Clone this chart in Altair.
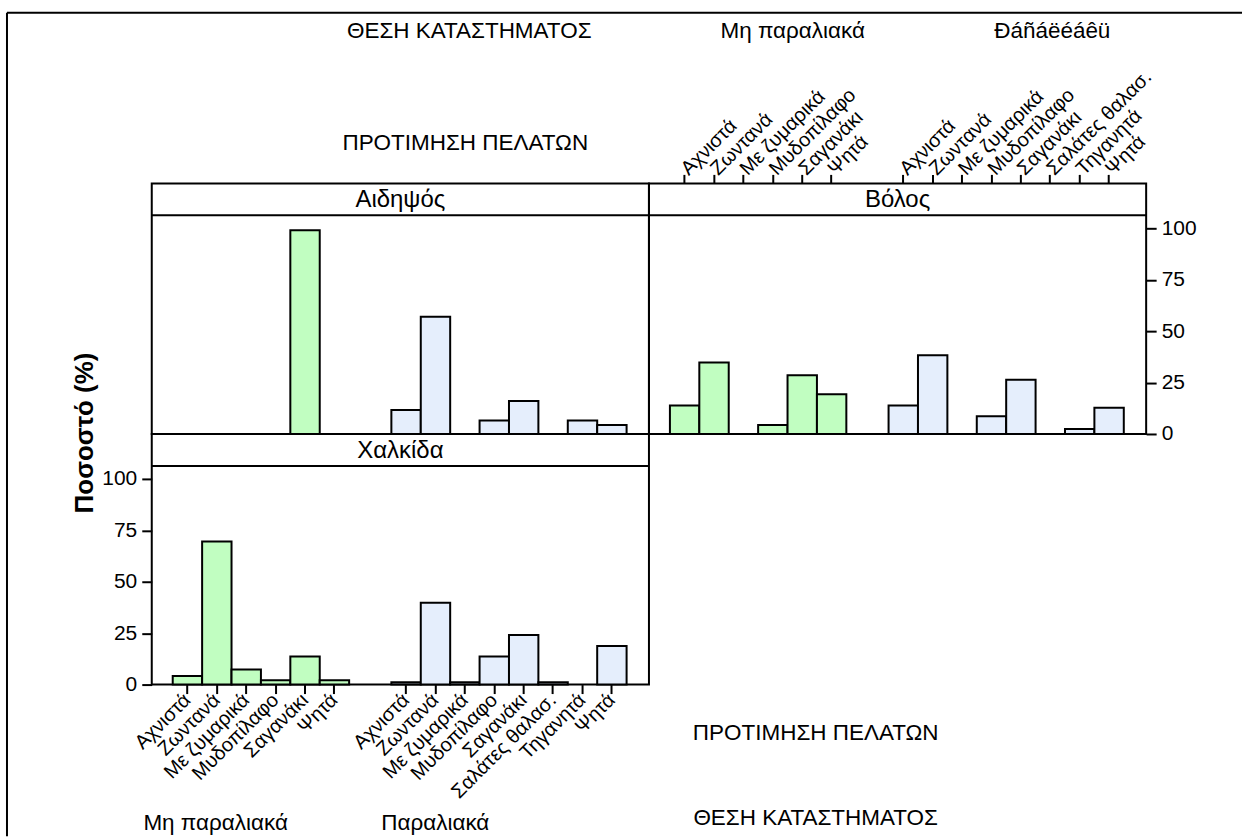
import altair as alt
import pandas as pd

# ---- data -----------------------------------------------------------------
cities = ["Αιδηψός", "Βόλος", "Χαλκίδα"]
locations = ["Μη παραλιακά", "Παραλιακά"]

foods_inland = ["Αχνιστά", "Ζωντανά", "Με ζυμαρικά", "Μυδοπίλαφο", "Σαγανάκι", "Ψητά"]
foods_seaside = ["Αχνιστά", "Ζωντανά", "Με ζυμαρικά", "Μυδοπίλαφο", "Σαγανάκι",
                 "Σαλάτες θαλασ.", "Τηγανητά", "Ψητά"]

# percentage of customers per food, for each city and shop location
aidipsos_inland = [0, 0, 0, 0, 99.0, 0]
aidipsos_seaside = [11.7, 57.0, 0, 6.6, 16.0, 0, 6.6, 4.4]
volos_inland = [13.8, 34.8, 0, 4.4, 28.6, 19.3]
volos_seaside = [13.8, 38.3, 0, 8.6, 26.4, 0, 2.4, 12.8]
chalkida_inland = [4.2, 69.6, 7.3, 2.1, 13.7, 2.1]
chalkida_seaside = [1.1, 39.8, 1.1, 13.6, 24.1, 1.1, 0, 18.8]

y_ticks = [0, 25, 50, 75, 100]

title_location = "ΘΕΣΗ ΚΑΤΑΣΤΗΜΑΤΟΣ"
title_preference = "ΠΡΟΤΙΜΗΣΗ ΠΕΛΑΤΩΝ"
title_y = "Ποσοστό (%)"
top_location_labels = ["Μη παραλιακά", "Ðáñáëéáêü"]

series = {
    (cities[0], locations[0]): aidipsos_inland,
    (cities[0], locations[1]): aidipsos_seaside,
    (cities[1], locations[0]): volos_inland,
    (cities[1], locations[1]): volos_seaside,
    (cities[2], locations[0]): chalkida_inland,
    (cities[2], locations[1]): chalkida_seaside,
}
food_lists = {locations[0]: foods_inland, locations[1]: foods_seaside}

rows = []
for (city, loc), vals in series.items():
    for food, v in zip(food_lists[loc], vals):
        if v > 0:
            rows.append({"city": city, "location": loc, "food": food, "pct": v})
df = pd.DataFrame(rows)

# ---- layout ---------------------------------------------------------------
FONT = "Liberation Sans"
W, H = 498, 251          # one lattice cell, header strip included
HEADER = 32              # height of the city strip
PX_PER_PCT = 2.06
Y_MAX = H / PX_PER_PCT   # the strip sits above the 100 % region
BAND = 29.45
group_ranges = {
    locations[0]: [21.0, 21.0 + 6 * BAND],
    locations[1]: [240.0, 240.0 + 8 * BAND],
}
fills = {locations[0]: "#c1fec1", locations[1]: "#e5eefc"}


def x_axis(orient):
    if orient is None:
        return None
    return alt.Axis(
        orient=orient, title=None, domain=False, grid=False,
        labelAngle=-45, labelAlign="right" if orient == "bottom" else "left",
        labelBaseline="middle", labelFontSize=20, labelPadding=3,
        labelOverlap=False, labelLimit=300, labelColor="black",
        tickSize=9, tickWidth=2, tickColor="black",
    )


def y_axis(orient):
    if orient is None:
        return None
    return alt.Axis(
        orient=orient, values=y_ticks, title=None, domain=False, grid=False,
        labelFontSize=21, labelPadding=5, labelColor="black",
        tickSize=10, tickWidth=2, tickColor="black",
    )


def text_at(label, x, y, size=22.5, **kw):
    return alt.Chart(pd.DataFrame({"t": [label]})).mark_text(
        font=FONT, fontSize=size, color="black", align="center",
        baseline="middle", **kw
    ).encode(x=alt.value(x), y=alt.value(y), text="t:N")


def panel(city, x_orient, y_orient, extras=()):
    layers = []
    for loc in locations:
        foods = food_lists[loc]
        d = df[(df.city == city) & (df.location == loc)]
        layers.append(
            alt.Chart(d).mark_bar(fill=fills[loc], stroke="black", strokeWidth=2).encode(
                x=alt.X("food:N", sort=foods,
                        scale=alt.Scale(domain=foods, range=group_ranges[loc],
                                        paddingInner=0, paddingOuter=0),
                        axis=x_axis(x_orient)),
                y=alt.Y("pct:Q", scale=alt.Scale(domain=[0, Y_MAX], nice=False, zero=True),
                        axis=y_axis(y_orient)),
            )
        )
    strip_line = alt.Chart(pd.DataFrame({"c": [city]})).mark_rule(
        color="black", strokeWidth=2
    ).encode(x=alt.value(0), x2=alt.value(W), y=alt.value(HEADER))
    strip_text = alt.Chart(pd.DataFrame({"c": [city]})).mark_text(
        font=FONT, fontSize=24, color="black", baseline="middle"
    ).encode(x=alt.value(W / 2), y=alt.value(HEADER / 2 + 1), text="c:N")
    layers += [strip_line, strip_text, *extras]
    return alt.layer(*layers).resolve_scale(x="independent").properties(width=W, height=H)


# outer frame (left and top edges) and the headings around the lattice
frame_left = alt.Chart(pd.DataFrame({"f": [0]})).mark_rule(color="black", strokeWidth=2).encode(
    x=alt.value(-145), y=alt.value(-171), y2=alt.value(654))
frame_top = alt.Chart(pd.DataFrame({"f": [0]})).mark_rule(color="black", strokeWidth=2).encode(
    x=alt.value(-145), x2=alt.value(1092), y=alt.value(-171))

aidipsos = panel(cities[0], None, None, extras=[
    frame_left, frame_top,
    text_at(title_location, 318, -153),
    text_at(title_preference, 314, -40),
    text_at(title_y, -67, 250, size=26, angle=270, fontWeight="bold"),
])

volos = panel(cities[1], "top", "right", extras=[
    text_at(top_location_labels[0], 144, -153),
    text_at(top_location_labels[1], 404, -153),
])

chalkida = panel(cities[2], "bottom", "left", extras=[
    text_at(locations[0], 64, 390),
    text_at(locations[1], 284, 390),
    text_at(title_preference, 665, 300),
    text_at(title_location, 665, 385),
])

chart = alt.concat(
    aidipsos, volos, chalkida, columns=2, spacing=0, bounds="flush"
).properties(
    padding={"left": 5, "top": 10, "right": 0, "bottom": 0},
    background="white",
).configure(
    font=FONT
).configure_view(
    stroke="black", strokeWidth=2
)

chart.save("out.html", embed_options={"renderer": "svg", "actions": False})
